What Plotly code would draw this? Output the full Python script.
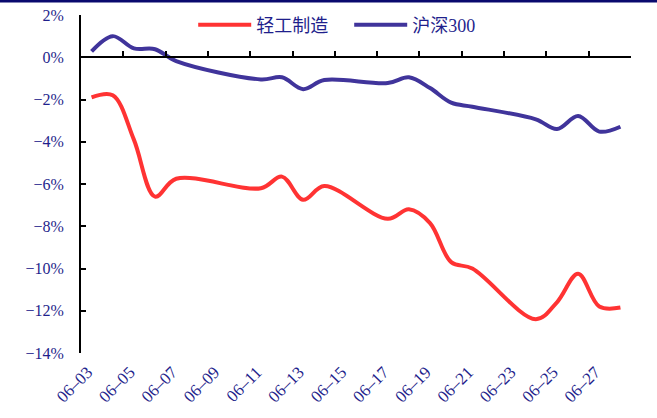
import plotly.graph_objects as go
from datetime import date, timedelta

# ---- data ----
dates = ["2024-06-03", "2024-06-04", "2024-06-05", "2024-06-06", "2024-06-07",
         "2024-06-11", "2024-06-12", "2024-06-13", "2024-06-14", "2024-06-17",
         "2024-06-18", "2024-06-19", "2024-06-20", "2024-06-21", "2024-06-24",
         "2024-06-25", "2024-06-26", "2024-06-27", "2024-06-28"]
light_industry = [-1.9, -1.8, -3.9, -6.6, -5.75, -6.2, -5.65, -6.75, -6.1, -7.65,
                  -7.2, -7.85, -9.7, -10.0, -12.4, -11.6, -10.25, -11.8, -11.85]
hs300 = [0.28, 1.0, 0.42, 0.38, -0.18, -1.05, -0.95, -1.51, -1.08, -1.22,
         -0.95, -1.46, -2.15, -2.34, -2.94, -3.4, -2.78, -3.52, -3.29]
series_names = ["轻工制造", "沪深300"]
tick_dates = ["2024-06-%02d" % d for d in range(3, 28, 2)]
tick_labels = ["06\u2013%02d" % d for d in range(3, 28, 2)]
y_ticks = [2, 0, -2, -4, -6, -8, -10, -12, -14]
y_labels = [("\u2212" if v < 0 else "") + "%d%%" % abs(v) for v in y_ticks]

# ---- style ----
RED = "rgb(255,51,51)"
BLUE = "rgb(64,52,155)"
NAVY = "#1F1F8C"
SERIF = "Liberation Serif"
LEGEND_FONT = "Liberation Serif, Noto Sans CJK SC"

x_start = "2024-06-02 12:00"
x_end = "2024-06-28 12:00"
boundary_ticks = [(date(2024, 6, 2) + timedelta(days=2 * k)).isoformat() + " 12:00"
                  for k in range(14)]

fig = go.Figure()
fig.add_trace(go.Scatter(x=dates, y=light_industry, name=series_names[0], mode="lines",
                         line=dict(color=RED, width=4, shape="spline", smoothing=1.0)))
fig.add_trace(go.Scatter(x=dates, y=hs300, name=series_names[1], mode="lines",
                         line=dict(color=BLUE, width=4, shape="spline", smoothing=1.0)))
# carrier trace for the zero-line axis
fig.add_trace(go.Scatter(x=[x_start], y=[None], xaxis="x2", yaxis="y", showlegend=False,
                         hoverinfo="skip", mode="lines"))

fig.update_layout(
    width=657, height=418,
    margin=dict(l=81, r=26, t=15, b=65, autoexpand=False),
    paper_bgcolor="white", plot_bgcolor="white",
    font=dict(family=SERIF, color=NAVY),
    showlegend=True,
    legend=dict(orientation="h", x=0.204, xanchor="left", y=0.97, yanchor="middle",
                font=dict(family=LEGEND_FONT, size=18, color=NAVY), itemwidth=53,
                entrywidth=88, entrywidthmode="pixels",
                bgcolor="rgba(0,0,0,0)"),
    xaxis=dict(type="date", range=[x_start, x_end], showline=False, ticks="",
               tickvals=tick_dates, ticktext=tick_labels, tickangle=-45,
               tickfont=dict(family=SERIF, size=17, color=NAVY), automargin=False,
               showgrid=False, zeroline=False, ticklabelstandoff=5, ticklabelshift=-4),
    xaxis2=dict(type="date", range=[x_start, x_end], overlaying="x", anchor="free",
                position=14 / 16, side="bottom", showline=True, linecolor="black",
                linewidth=2, ticks="inside", ticklen=5, tickwidth=2, tickcolor="black",
                tickvals=boundary_ticks, showticklabels=False, showgrid=False,
                zeroline=False),
    yaxis=dict(range=[-14, 2], tickvals=y_ticks, ticktext=y_labels, showline=True,
               linecolor="black", linewidth=2, ticks="inside", ticklen=5, tickwidth=2,
               tickcolor="black", tickfont=dict(family=SERIF, size=16, color=NAVY),
               showgrid=False, zeroline=False, ticklabelstandoff=12, automargin=False),
    shapes=[dict(type="line", xref="paper", yref="paper", x0=-0.2, x1=1.1,
                 y0=1 + 14 / 338, y1=1 + 14 / 338,
                 line=dict(color="#0A0A6E", width=3))],
)

fig.write_html("out.html", config={"displayModeBar": False},
               post_script="document.body.style.margin='0';")
